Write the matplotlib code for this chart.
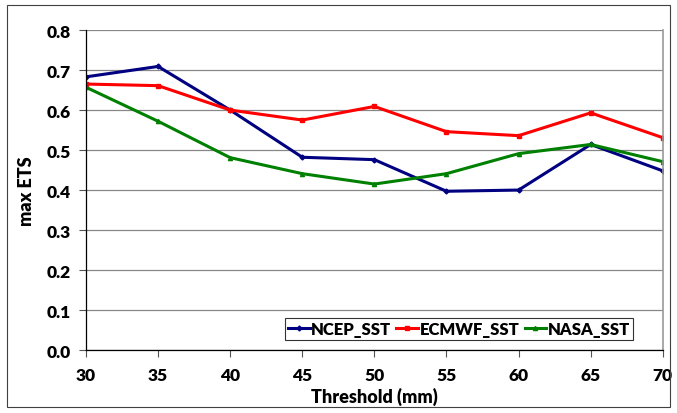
import matplotlib
matplotlib.use('Agg')
import matplotlib.pyplot as plt
from matplotlib.patches import Rectangle

plt.rcParams['font.family'] = ['Lato', 'DejaVu Sans']

# data
thresholds = [30, 35, 40, 45, 50, 55, 60, 65, 70]
ncep_sst = [0.683, 0.709, 0.600, 0.482, 0.476, 0.397, 0.400, 0.514, 0.448]
ecmwf_sst = [0.665, 0.661, 0.600, 0.575, 0.609, 0.546, 0.536, 0.593, 0.531]
nasa_sst = [0.657, 0.572, 0.481, 0.441, 0.415, 0.441, 0.491, 0.514, 0.471]

fig = plt.figure(figsize=(6.77, 4.14), dpi=100)
ax = fig.add_axes([0.127, 0.152, 0.852, 0.773])

# outer chart border
fig.patches.append(Rectangle((0.010, 0.014), 0.980, 0.972, transform=fig.transFigure,
                             fill=False, edgecolor='#404040', linewidth=0.8))

ax.plot(thresholds, ncep_sst, color='#000080', linewidth=2.2, marker='D', markersize=2.5,
        label='NCEP_SST')
ax.plot(thresholds, ecmwf_sst, color='#ff0000', linewidth=2.2, marker='s', markersize=3,
        label='ECMWF_SST')
ax.plot(thresholds, nasa_sst, color='#008000', linewidth=2.2, marker='^', markersize=3,
        label='NASA_SST')

ax.set_xlim(30, 70)
ax.set_ylim(0, 0.8)
ax.set_xticks(thresholds)
ax.set_yticks([i / 10 for i in range(9)])
ax.set_yticklabels([f'{i / 10:.1f}' for i in range(9)])

ax.grid(True, axis='y', color='#888888', linewidth=0.9)
ax.set_axisbelow(True)
ax.spines['top'].set_visible(False)
ax.spines['right'].set_color('#999999')
ax.spines['right'].set_linewidth(1.2)
ax.spines['left'].set_linewidth(0.9)
ax.spines['bottom'].set_linewidth(0.9)

ax.tick_params(axis='both', labelsize=12.5, direction='out', length=5, width=0.8, color='#555555')
ax.tick_params(axis='x', pad=7)
ax.tick_params(axis='y', pad=6)
for lbl in ax.get_xticklabels() + ax.get_yticklabels():
    lbl.set_fontweight('heavy')

ax.set_xlabel('Threshold (mm)', fontsize=13, fontweight='heavy', labelpad=3)
ax.set_ylabel('max ETS', fontsize=13, fontweight='heavy', labelpad=8)

leg = ax.legend(loc='lower right', bbox_to_anchor=(0.955, 0.02), ncol=3,
                prop={'weight': 'heavy', 'size': 12}, frameon=True, fancybox=False,
                handlelength=1.3, handletextpad=0.1, columnspacing=0.3,
                borderpad=0.2, borderaxespad=0.2)
leg.get_frame().set_edgecolor('black')
leg.get_frame().set_linewidth(0.8)

fig.savefig('out.png', dpi=100)
